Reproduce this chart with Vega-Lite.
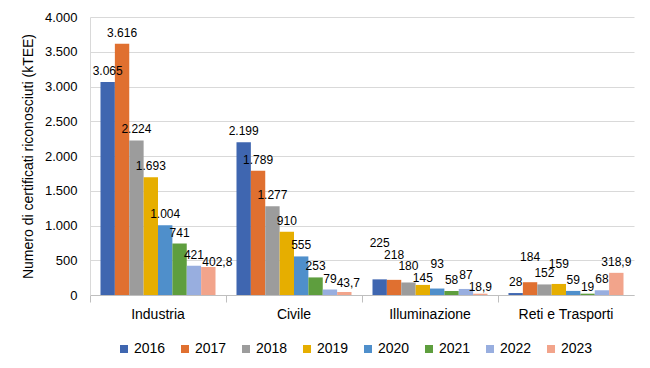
{
  "$schema": "https://vega.github.io/schema/vega-lite/v6.json",
  "width": 544,
  "height": 278,
  "autosize": {"type": "none"},
  "padding": {"left": 90, "top": 17, "right": 16, "bottom": 73},
  "background": "white",
  "config": {
    "locale": {"number": {"decimal": ",", "thousands": ".", "grouping": [3], "currency": ["€", ""]}},
    "font": "Liberation Sans",
    "view": {"stroke": null},
    "axis": {"labelFont": "Liberation Sans", "titleFont": "Liberation Sans", "labelColor": "#000000", "titleColor": "#000000"},
    "text": {"baseline": "alphabetic", "fontSize": 12, "color": "#000000", "font": "Liberation Sans"}
  },
  "data": {
    "values": [
      {"settore": "Industria", "anno": "2016", "valore": 3065},
      {"settore": "Industria", "anno": "2017", "valore": 3616},
      {"settore": "Industria", "anno": "2018", "valore": 2224},
      {"settore": "Industria", "anno": "2019", "valore": 1693},
      {"settore": "Industria", "anno": "2020", "valore": 1004},
      {"settore": "Industria", "anno": "2021", "valore": 741},
      {"settore": "Industria", "anno": "2022", "valore": 421},
      {"settore": "Industria", "anno": "2023", "valore": 402.8},
      {"settore": "Civile", "anno": "2016", "valore": 2199},
      {"settore": "Civile", "anno": "2017", "valore": 1789},
      {"settore": "Civile", "anno": "2018", "valore": 1277},
      {"settore": "Civile", "anno": "2019", "valore": 910},
      {"settore": "Civile", "anno": "2020", "valore": 555},
      {"settore": "Civile", "anno": "2021", "valore": 253},
      {"settore": "Civile", "anno": "2022", "valore": 79},
      {"settore": "Civile", "anno": "2023", "valore": 43.7},
      {"settore": "Illuminazione", "anno": "2016", "valore": 225},
      {"settore": "Illuminazione", "anno": "2017", "valore": 218},
      {"settore": "Illuminazione", "anno": "2018", "valore": 180},
      {"settore": "Illuminazione", "anno": "2019", "valore": 145},
      {"settore": "Illuminazione", "anno": "2020", "valore": 93},
      {"settore": "Illuminazione", "anno": "2021", "valore": 58},
      {"settore": "Illuminazione", "anno": "2022", "valore": 87},
      {"settore": "Illuminazione", "anno": "2023", "valore": 18.9},
      {"settore": "Reti e Trasporti", "anno": "2016", "valore": 28},
      {"settore": "Reti e Trasporti", "anno": "2017", "valore": 184},
      {"settore": "Reti e Trasporti", "anno": "2018", "valore": 152},
      {"settore": "Reti e Trasporti", "anno": "2019", "valore": 159},
      {"settore": "Reti e Trasporti", "anno": "2020", "valore": 59},
      {"settore": "Reti e Trasporti", "anno": "2021", "valore": 19},
      {"settore": "Reti e Trasporti", "anno": "2022", "valore": 68},
      {"settore": "Reti e Trasporti", "anno": "2023", "valore": 318.9}
    ]
  },
  "encoding": {
    "x": {
      "field": "settore", "type": "nominal",
      "sort": ["Industria", "Civile", "Illuminazione", "Reti e Trasporti"],
      "scale": {"paddingInner": 0, "paddingOuter": 0},
      "axis": {"title": null, "labelAngle": 0, "labelFontSize": 14, "labelPadding": 5,
               "bandPosition": 0, "tickSize": 7, "tickColor": "#bfbfbf", "domainColor": "#bfbfbf", "grid": false}
    },
    "xOffset": {"field": "anno", "type": "nominal", "scale": {"paddingInner": 0, "paddingOuter": 0.73}},
    "y": {
      "field": "valore", "type": "quantitative",
      "scale": {"domain": [0, 4000]},
      "axis": {"title": "Numero di certificati riconosciuti (kTEE)", "titleFontSize": 14, "titleFontWeight": "normal",
               "titlePadding": 9, "labelFontSize": 13, "labelPadding": 13, "tickSize": 0, "values": [0,500,1000,1500,2000,2500,3000,3500,4000],
               "format": ",d", "gridColor": "#d9d9d9", "domainColor": "#d9d9d9"}
    }
  },
  "layer": [
    {
      "mark": {"type": "bar"},
      "encoding": {
        "color": {
          "field": "anno", "type": "nominal",
          "scale": {"domain": ["2016","2017","2018","2019","2020","2021","2022","2023"],
                    "range": ["#3F66B0", "#E07030", "#9C9C9C", "#E6AE00", "#4F8FCB", "#5E9E3E", "#98AEDF", "#F2A48B"]},
          "legend": {"title": null, "orient": "none", "legendX": 27, "legendY": 325, "direction": "horizontal", "columns": 8,
                     "symbolType": "square", "symbolSize": 64, "symbolStrokeWidth": 0, "labelFontSize": 14, "labelOffset": 3,
                     "columnPadding": 12, "labelColor": "#000000", "labelFont": "Liberation Sans"}
        }
      }
    },
    {
      "transform": [{"filter": "!((datum.settore == 'Illuminazione' && datum.anno != '2021') || (datum.settore == 'Reti e Trasporti' && indexof(['2017','2019','2021'], datum.anno) >= 0) || (datum.settore == 'Industria' && datum.anno == '2023') || (datum.settore == 'Civile' && datum.anno == '2023'))"}],
      "mark": {"type": "text", "dy": -7},
      "encoding": {"text": {"field": "valore", "type": "quantitative", "format": ",.4~r"}}
    },
    {
      "transform": [{"filter": "datum.settore == 'Industria' && datum.anno == '2023'"}],
      "mark": {"type": "text", "dy": -1, "dx": 9},
      "encoding": {"text": {"field": "valore", "type": "quantitative", "format": ",.4~r"}}
    },
    {
      "transform": [{"filter": "datum.settore == 'Civile' && datum.anno == '2023'"}],
      "mark": {"type": "text", "dy": -5, "dx": 4},
      "encoding": {"text": {"field": "valore", "type": "quantitative", "format": ",.4~r"}}
    },
    {
      "transform": [{"filter": "(datum.settore == 'Illuminazione' && indexof(['2019','2023'], datum.anno) >= 0) || (datum.settore == 'Reti e Trasporti' && datum.anno == '2021')"}],
      "mark": {"type": "text", "dy": -3},
      "encoding": {"text": {"field": "valore", "type": "quantitative", "format": ",.4~r"}}
    },
    {
      "transform": [{"filter": "datum.settore == 'Illuminazione' && datum.anno == '2022'"}],
      "mark": {"type": "text", "dy": -10},
      "encoding": {"text": {"field": "valore", "type": "quantitative", "format": ",.4~r"}}
    },
    {
      "transform": [{"filter": "datum.settore == 'Illuminazione' && datum.anno == '2018'"}],
      "mark": {"type": "text", "dy": -12},
      "encoding": {"text": {"field": "valore", "type": "quantitative", "format": ",.4~r"}}
    },
    {
      "transform": [{"filter": "datum.settore == 'Reti e Trasporti' && datum.anno == '2019'"}],
      "mark": {"type": "text", "dy": -16},
      "encoding": {"text": {"field": "valore", "type": "quantitative", "format": ",.4~r"}}
    },
    {
      "transform": [{"filter": "(datum.settore == 'Illuminazione' && indexof(['2017','2020'], datum.anno) >= 0) || (datum.settore == 'Reti e Trasporti' && datum.anno == '2017')"}],
      "mark": {"type": "text", "dy": -21},
      "encoding": {"text": {"field": "valore", "type": "quantitative", "format": ",.4~r"}}
    },
    {
      "transform": [{"filter": "datum.settore == 'Illuminazione' && datum.anno == '2016'"}],
      "mark": {"type": "text", "dy": -32},
      "encoding": {"text": {"field": "valore", "type": "quantitative", "format": ",.4~r"}}
    }
  ]
}
